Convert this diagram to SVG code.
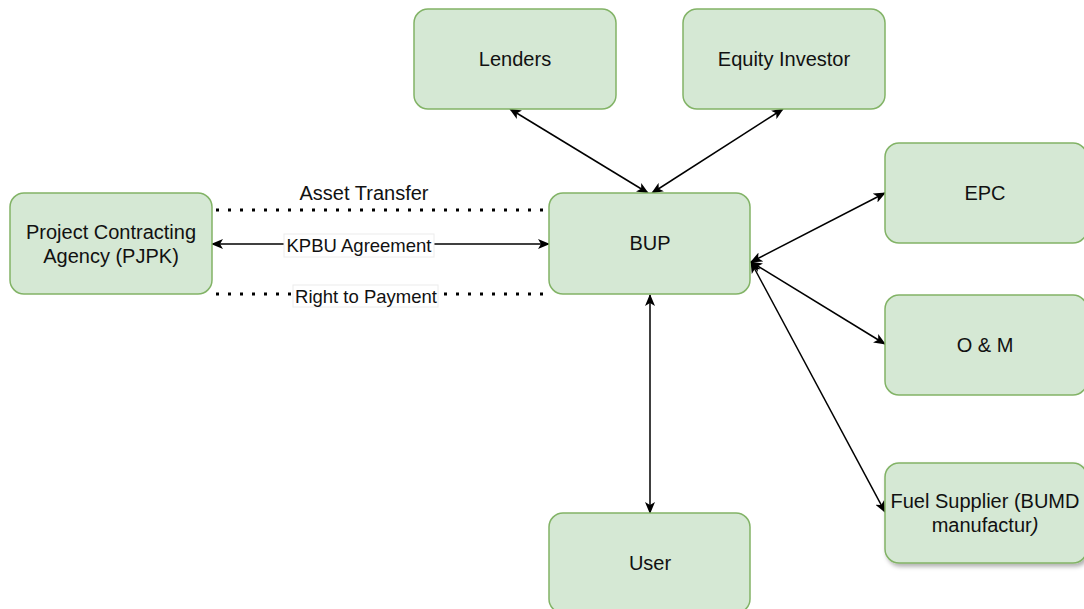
<svg xmlns="http://www.w3.org/2000/svg" width="1084" height="609" viewBox="0 0 1084 609">
  <style>
    .box { fill: #d5e8d4; stroke: #82b366; stroke-width: 1.5; }
    .lbl { font-family: "Liberation Sans", Arial, sans-serif; font-size: 20px; fill: #111; text-anchor: middle; dominant-baseline: central; }
    .elbl { font-family: "Liberation Sans", Arial, sans-serif; font-size: 18.5px; fill: #111; text-anchor: middle; dominant-baseline: central; }
    .edge { stroke: #000; stroke-width: 1.5; fill: none; }
    .two { marker-start: url(#arrow); marker-end: url(#arrow); }
    .dots { stroke: #000; stroke-width: 3; stroke-dasharray: 3 9; fill: none; }
    .bg { fill: #fff; stroke: #ececec; stroke-width: 1; }
  </style>
  <defs>
    <marker id="arrow" viewBox="0 0 12 10" refX="11" refY="5" markerWidth="12" markerHeight="10" markerUnits="userSpaceOnUse" orient="auto-start-reverse">
      <path d="M0,0 L12,5 L0,10 L3,5 Z" fill="#000"/>
    </marker>
    <filter id="shadow" x="-10%" y="-10%" width="130%" height="140%">
      <feDropShadow dx="2" dy="3" stdDeviation="2" flood-color="#000" flood-opacity="0.3"/>
    </filter>
  </defs>

  <rect width="1084" height="609" fill="#fff"/>

  <!-- connectors -->
  <g id="connectors">
    <line class="edge two" x1="510" y1="109" x2="648" y2="193"/>
    <line class="edge two" x1="783" y1="109" x2="652" y2="193"/>
    <line class="edge two" x1="751" y1="262" x2="885" y2="193"/>
    <line class="edge two" x1="751" y1="262" x2="885" y2="344"/>
    <line class="edge two" x1="751" y1="262" x2="885" y2="512"/>
    <line class="edge two" x1="650" y1="295" x2="650" y2="513"/>
    <line class="edge two" x1="212" y1="244" x2="549" y2="244"/>
    <line class="dots" x1="216" y1="210" x2="549" y2="210"/>
    <line class="dots" x1="216" y1="294" x2="549" y2="294"/>
    <text class="lbl" x="364" y="193">Asset Transfer</text>
    <rect class="bg" x="284" y="234" width="150" height="23"/>
    <text class="elbl" x="359" y="245">KPBU Agreement</text>
    <rect class="bg" x="293" y="285" width="145" height="22" stroke="none"/>
    <text class="elbl" x="366" y="296">Right to Payment</text>
  </g>

  <!-- nodes -->
  <g id="lenders">
    <rect class="box" x="414" y="9" width="202" height="100" rx="14"/>
    <text class="lbl" x="515" y="59">Lenders</text>
  </g>
  <g id="equity-investor">
    <rect class="box" x="683" y="9" width="202" height="100" rx="14"/>
    <text class="lbl" x="784" y="59">Equity Investor</text>
  </g>
  <g id="bup">
    <rect class="box" x="549" y="193" width="201" height="101" rx="14"/>
    <text class="lbl" x="650" y="243">BUP</text>
  </g>
  <g id="pjpk">
    <rect class="box" x="10" y="193" width="202" height="101" rx="14"/>
    <text class="lbl" x="111" y="232">Project Contracting</text>
    <text class="lbl" x="111" y="256">Agency (PJPK)</text>
  </g>
  <g id="epc">
    <rect class="box" x="885" y="143" width="202" height="100" rx="14"/>
    <text class="lbl" x="985" y="193">EPC</text>
  </g>
  <g id="om">
    <rect class="box" x="885" y="295" width="202" height="100" rx="14"/>
    <text class="lbl" x="985" y="345">O &amp; M</text>
  </g>
  <g id="fuel-supplier">
    <rect class="box" x="885" y="463" width="202" height="100" rx="14" filter="url(#shadow)"/>
    <text class="lbl" x="985" y="501">Fuel Supplier (BUMD</text>
    <text class="lbl" x="985" y="525">manufactur<tspan font-style="italic">)</tspan></text>
  </g>
  <g id="user">
    <rect class="box" x="549" y="513" width="201" height="100" rx="14"/>
    <text class="lbl" x="650" y="563">User</text>
  </g>
</svg>
